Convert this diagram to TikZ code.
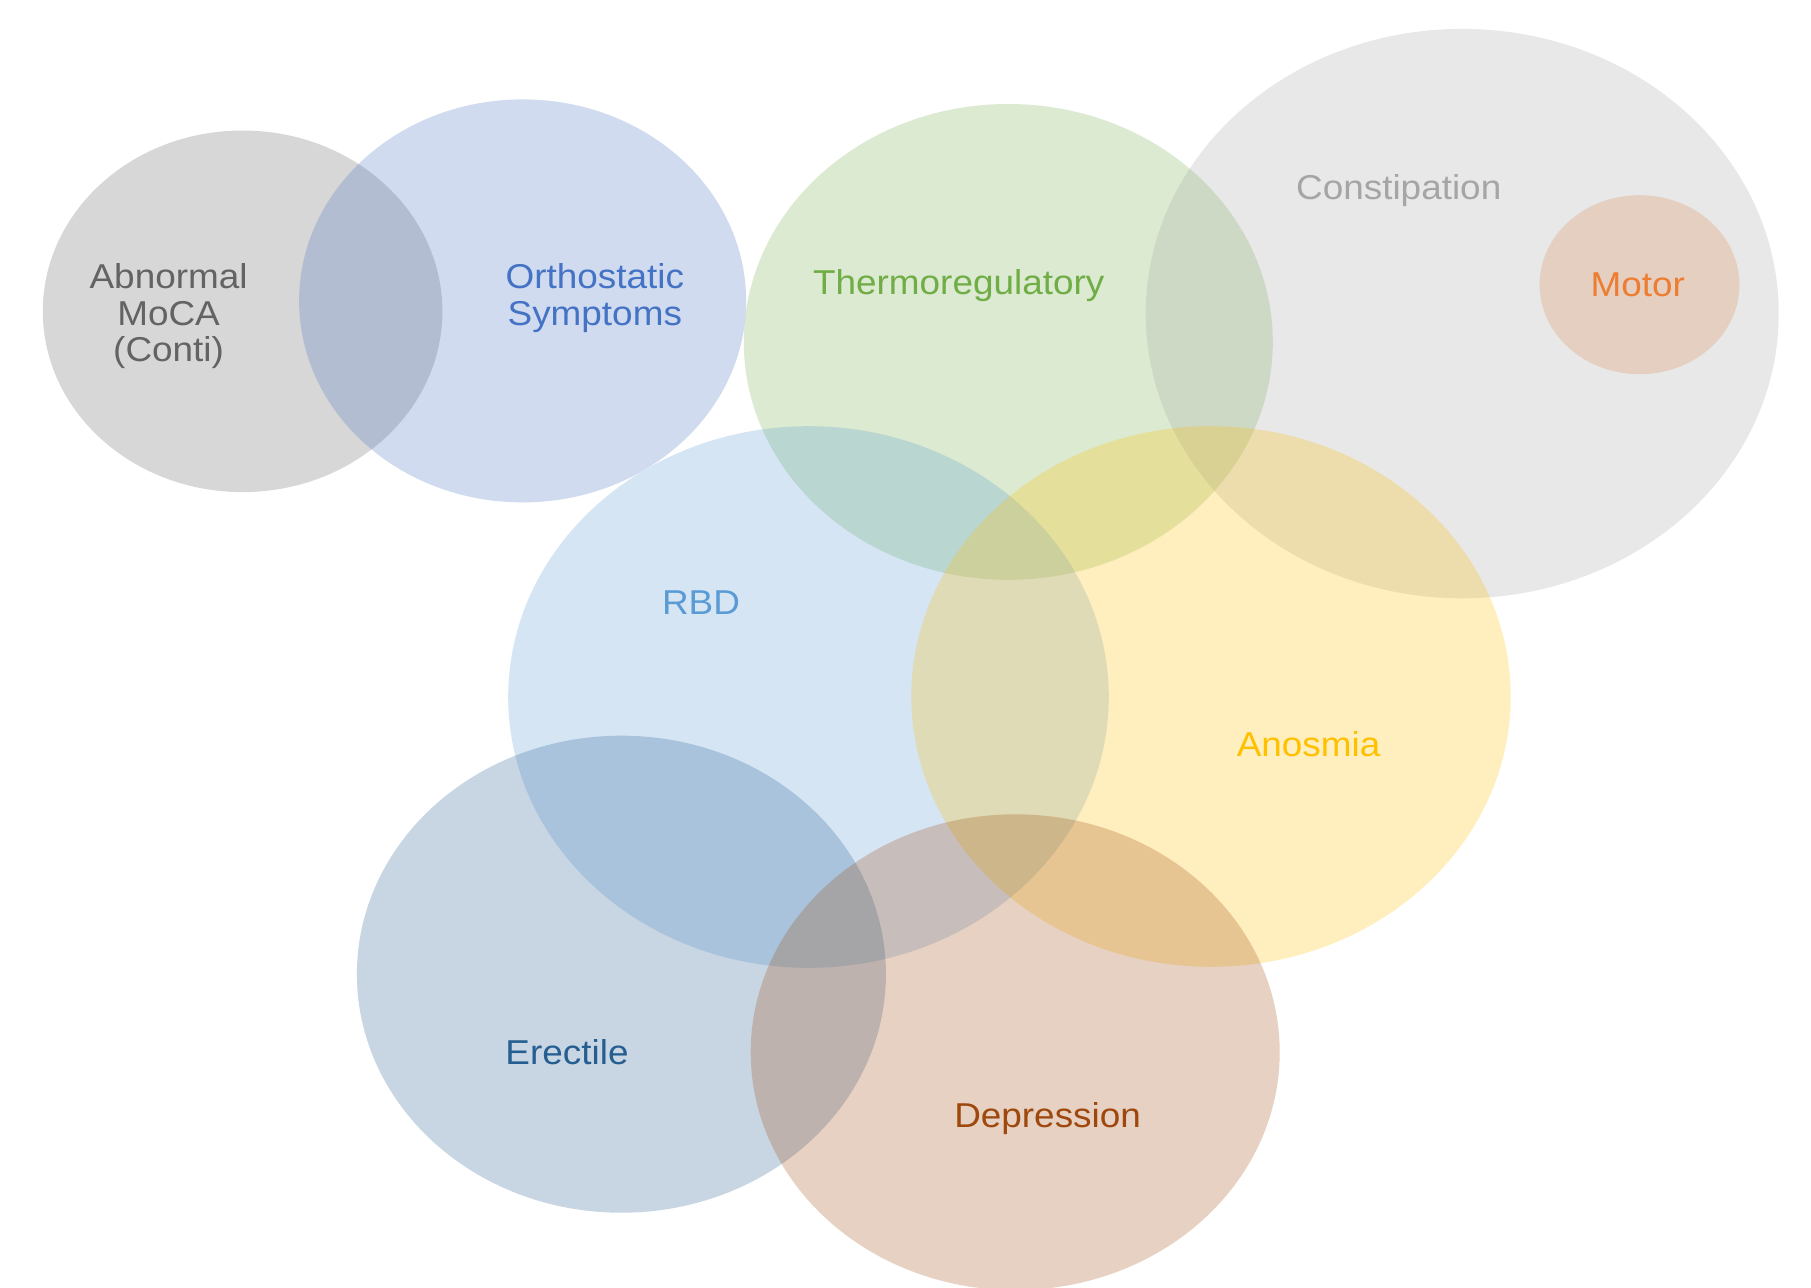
\documentclass[tikz,border=0pt]{standalone}
\usepackage{fontspec}
\setmainfont[FakeStretch=1.07]{Liberation Sans}
\usetikzlibrary{shapes.geometric}

% Office theme accents
\definecolor{acBlue}{HTML}{4472C4}
\definecolor{acOrange}{HTML}{ED7D31}
\definecolor{acGray}{HTML}{A5A5A5}
\definecolor{acGold}{HTML}{FFC000}
\definecolor{acLightBlue}{HTML}{5B9BD5}
\definecolor{acGreen}{HTML}{70AD47}
\definecolor{acDarkGray}{HTML}{636363}
\definecolor{acSteel}{HTML}{255E91}
\definecolor{acBrown}{HTML}{9E480E}

\tikzset{
  blob/.style={ellipse, draw=none, fill=#1, fill opacity=0.25, inner sep=0pt},
  tag/.style={anchor=base, inner sep=0pt, text=#1,
              font=\fontsize{34.5}{36.8}\selectfont, align=center},
}

\begin{document}
\begin{tikzpicture}[x=1pt,y=-1pt]
  \fill[white] (0,0) rectangle (1811,1287);
  \useasboundingbox (0,0) rectangle (1811,1287);

  % overlapping sets
  \node[blob=acDarkGray, minimum width=399.6pt, minimum height=361.6pt] (moca)   at (242.6,311.3) {};
  \node[blob=acBlue,     minimum width=447pt,   minimum height=403pt]   (ortho)  at (522.6,300.9) {};
  \node[blob=acGreen,    minimum width=529pt,   minimum height=475.8pt] (thermo) at (1008.3,341.9) {};
  \node[blob=acOrange,   minimum width=199.8pt, minimum height=179pt]   (motor)  at (1639.5,284.7) {};
  \node[blob=acGray,     minimum width=633pt,   minimum height=569.4pt] (const)  at (1462.2,313.6) {};
  \node[blob=acLightBlue,minimum width=600.6pt, minimum height=541.6pt] (rbd)    at (808.5,697) {};
  \node[blob=acGold,     minimum width=599.4pt, minimum height=540.6pt] (anos)   at (1211,696.5) {};
  \node[blob=acSteel,    minimum width=529pt,   minimum height=477pt]   (erect)  at (621.4,974.2) {};
  \node[blob=acBrown,    minimum width=529pt,   minimum height=475.8pt] (depr)   at (1015.2,1052.2) {};

  % set labels
  \node[tag=acDarkGray, anchor=north] (lmoca) at (168.6,263) {Abnormal\\MoCA\\(Conti)};
  \node[tag=acBlue, anchor=north] (lortho) at (594.8,263) {Orthostatic\\Symptoms};
  \node[tag=acGreen]     (lthermo) at (958.7,294) {Thermoregulatory};
  \node[tag=acGray]      (lconst)  at (1398.7,199) {Constipation};
  \node[tag=acOrange]    (lmotor)  at (1637.8,296) {Motor};
  \node[tag=acLightBlue] (lrbd)    at (701,614) {RBD};
  \node[tag=acGold]      (lanos)   at (1308.6,756) {Anosmia};
  \node[tag=acSteel]     (lerect)  at (567,1064) {Erectile};
  \node[tag=acBrown]     (ldepr)   at (1047.6,1127) {Depression};
\end{tikzpicture}
\end{document}
